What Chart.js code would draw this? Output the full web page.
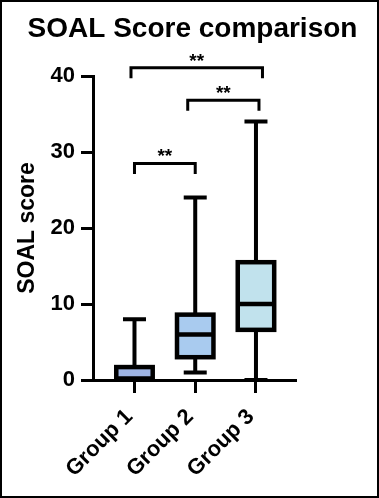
<!DOCTYPE html>
<html>
<head>
<meta charset="utf-8">
<script src="https://cdn.jsdelivr.net/npm/chart.js@4/dist/chart.umd.min.js"></script>
<style>
html,body{margin:0;padding:0;background:#fff;}
canvas{display:block;}
</style>
</head>
<body>
<canvas id="c" width="379" height="498"></canvas>
<script>
// ---- data ----
const categories   = ['Group 1', 'Group 2', 'Group 3'];
const minValues    = [0, 1, 0];
const q1Values     = [0, 3, 6.6];
const medianValues = [0.2, 6, 10];
const q3Values     = [1.7, 8.6, 15.5];
const maxValues    = [8, 24, 34];
const yTickValues  = [0, 10, 20, 30, 40];
const comparisons  = [[0, 1], [1, 2], [0, 2]];
const bracketLevels = [28.5, 36.8, 41.1];
const significance = ['**', '**', '**'];

const FONT = "'Liberation Sans', Arial, Helvetica, sans-serif";
Chart.defaults.font.family = FONT;
Chart.defaults.color = '#000';

const framePlugin = {
  id: 'frame',
  beforeDraw(chart) {
    const c = chart.ctx;
    c.save(); c.fillStyle = '#fff'; c.fillRect(0, 0, chart.width, chart.height); c.restore();
  },
  afterDraw(chart) {
    const c = chart.ctx;
    c.save(); c.strokeStyle = '#000'; c.lineWidth = 2;
    c.strokeRect(1, 1, chart.width - 2, chart.height - 2); c.restore();
  }
};

const boxPlugin = {
  id: 'boxWhiskers',
  beforeDatasetsDraw(chart, args, opts) {
    const {ctx, scales: {x, y}} = chart;
    ctx.save();
    ctx.strokeStyle = '#000';
    ctx.lineWidth = opts.whiskerWidth;
    ctx.lineCap = 'butt';
    categories.forEach((c, i) => {
      const px = x.getPixelForValue(i + 1);
      const h = opts.capHalf;
      const yMax = y.getPixelForValue(maxValues[i]);
      const yMin = y.getPixelForValue(minValues[i]);
      ctx.beginPath();
      ctx.moveTo(px, y.getPixelForValue(q3Values[i])); ctx.lineTo(px, yMax);
      ctx.moveTo(px, y.getPixelForValue(q1Values[i])); ctx.lineTo(px, yMin);
      ctx.moveTo(px - h, yMax); ctx.lineTo(px + h, yMax);
      ctx.moveTo(px - h, yMin); ctx.lineTo(px + h, yMin);
      ctx.stroke();
    });
    ctx.restore();
  },
  afterDatasetsDraw(chart, args, opts) {
    const {ctx, scales: {y}} = chart;
    const meta = chart.getDatasetMeta(0);
    ctx.save();
    ctx.strokeStyle = '#000';
    ctx.lineWidth = opts.boxLineWidth;
    ctx.lineJoin = 'miter';
    meta.data.forEach((el, i) => {
      const p = el.getProps(['x', 'y', 'base', 'width'], true);
      const left = p.x - p.width / 2;
      ctx.strokeRect(left, p.y, p.width, p.base - p.y);
      const ym = y.getPixelForValue(medianValues[i]);
      ctx.beginPath(); ctx.moveTo(left, ym); ctx.lineTo(left + p.width, ym); ctx.stroke();
    });
    ctx.restore();
  }
};

const sigPlugin = {
  id: 'sig',
  afterDatasetsDraw(chart, args, opts) {
    const {ctx, scales: {x, y}} = chart;
    ctx.save();
    ctx.strokeStyle = '#000';
    ctx.fillStyle = '#000';
    ctx.lineWidth = 3;
    ctx.lineJoin = 'miter';
    ctx.font = 'bold 19px ' + FONT;
    ctx.textAlign = 'center';
    ctx.textBaseline = 'alphabetic';
    comparisons.forEach(([a, b], k) => {
      const off = opts.endOffsets[k];
      const x1 = x.getPixelForValue(a + 1) + off[0];
      const x2 = x.getPixelForValue(b + 1) + off[1];
      const yy = y.getPixelForValue(bracketLevels[k]);
      ctx.beginPath();
      ctx.moveTo(x1, yy + opts.leg); ctx.lineTo(x1, yy); ctx.lineTo(x2, yy); ctx.lineTo(x2, yy + opts.leg);
      ctx.stroke();
      ctx.fillText(significance[k], (x1 + x2) / 2, yy - 12 + 11);
    });
    ctx.restore();
  }
};

new Chart(document.getElementById('c'), {
  type: 'bar',
  data: {
    datasets: [{
      data: categories.map((c, i) => ({x: i + 1, y: [q1Values[i], q3Values[i]]})),
      backgroundColor: ['#9fb5e4', '#a9cbef', '#c1e2ed'],
      borderWidth: 0,
      inflateAmount: 0,
      categoryPercentage: 1,
      barPercentage: 0.6,
      xAxisID: 'x',
      yAxisID: 'y'
    }]
  },
  options: {
    responsive: false,
    animation: false,
    devicePixelRatio: 1,
    layout: {padding: {left: 6, right: 0, top: 0, bottom: 0}},
    plugins: {
      legend: {display: false},
      tooltip: {enabled: false},
      title: {
        display: true,
        text: 'SOAL Score comparison',
        color: '#000',
        font: {size: 28, weight: 'bold', family: FONT},
        padding: {top: 12, bottom: 30.4}
      },
      boxWhiskers: {whiskerWidth: 4, capHalf: 11.5, boxLineWidth: 4.5},
      sig: {leg: 10.5, endOffsets: [[0, 0], [-7.5, 3], [-3.5, 6.5]]}
    },
    scales: {
      x: {
        type: 'linear',
        position: 'bottom',
        offset: false,
        min: 0.317,
        max: 3.659,
        afterBuildTicks: (s) => { s.ticks = categories.map((c, i) => ({value: i + 1})); },
        afterFit: (s) => { s.height = 118; },
        ticks: {
          callback: (v, i) => categories[i],
          minRotation: 45, maxRotation: 45,
          font: {size: 22, weight: 'bold', family: FONT},
          color: '#000',
          padding: 11,
          labelOffset: -5
        },
        grid: {offset: false, drawOnChartArea: false, drawTicks: true, tickLength: 13, tickWidth: 3, tickColor: '#000'},
        border: {display: true, color: '#000', width: 3}
      },
      y: {
        type: 'linear',
        position: 'left',
        min: 0,
        max: 40,
        afterBuildTicks: (s) => { s.ticks = yTickValues.map(v => ({value: v})); },
        afterFit: (s) => { s.width = 87; },
        ticks: {
          font: {size: 22, weight: 'bold', family: FONT},
          color: '#000',
          padding: 6
        },
        grid: {drawOnChartArea: false, drawTicks: true, tickLength: 12, tickWidth: 3, tickColor: '#000'},
        border: {display: true, color: '#000', width: 3},
        title: {
          display: true,
          text: 'SOAL score',
          color: '#000',
          font: {size: 23, weight: 'bold', family: FONT},
          padding: {top: 8, bottom: 0}
        }
      },
      yR: {
        type: 'linear',
        position: 'right',
        display: true,
        afterFit: (s) => { s.width = 83; },
        ticks: {display: false},
        grid: {display: false},
        border: {display: false}
      }
    }
  },
  plugins: [framePlugin, boxPlugin, sigPlugin]
});
</script>
</body>
</html>
